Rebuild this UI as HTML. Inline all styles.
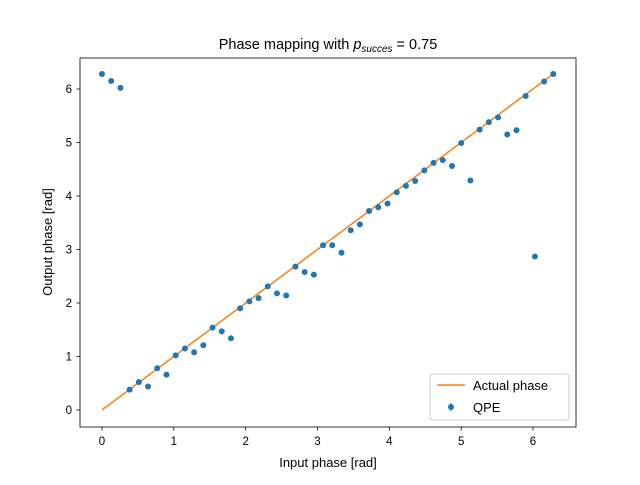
<!DOCTYPE html>
<html><head><meta charset="utf-8"><style>
body{margin:0;background:#fff}
svg{font-family:"Liberation Sans","DejaVu Sans",sans-serif}
</style></head><body>
<svg id="chart" width="640" height="480" viewBox="0 0 640 480">
<rect width="640" height="480" fill="#fff"/>
<text x="328" y="49" font-size="14.5" text-anchor="middle">Phase mapping with <tspan font-style="italic">p</tspan><tspan font-style="italic" font-size="10" dy="3">succes</tspan><tspan dy="-3"> = 0.75</tspan></text>
<g id="ticks"></g>
<g id="marks"></g>
<rect x="80" y="58" width="496" height="369" fill="none" stroke="#000" stroke-width="0.8"/>
<text x="328" y="467" font-size="13" text-anchor="middle">Input phase [rad]</text>
<text x="0" y="0" font-size="13" text-anchor="middle" transform="translate(52,242) rotate(-90)">Output phase [rad]</text>
<g>
<rect x="430" y="374" width="139" height="46" rx="3" fill="#fff" fill-opacity="0.8" stroke="#ccc"/>
<line x1="437" y1="385" x2="465" y2="385" stroke="#ff7f0e" stroke-width="1.5"/>
<text x="473" y="390" font-size="13">Actual phase</text>
<circle cx="451" cy="407" r="3" fill="#1f77b4"/>
<line x1="451" y1="403" x2="451" y2="411" stroke="#1f77b4"/>
<text x="473" y="412" font-size="13">QPE</text>
</g>
</svg>
<script>
const qpeValues=[6.28,6.15,6.02,0.38,0.52,0.44,0.78,0.66,1.02,1.15,1.08,1.21,1.54,1.47,1.34,1.90,2.03,2.09,2.31,2.18,2.14,2.68,2.58,2.53,3.08,3.08,2.94,3.36,3.47,3.72,3.79,3.86,4.07,4.19,4.28,4.48,4.62,4.67,4.56,4.99,4.29,5.24,5.38,5.47,5.15,5.23,5.87,2.87,6.14,6.28];
const xTicks=[0,1,2,3,4,5,6];
const yTicks=[0,1,2,3,4,5,6];
const N=qpeValues.length;
const inputPhases=qpeValues.map((v,i)=>i*2*Math.PI/(N-1));
const sx=v=>102+v*71.83;
const sy=v=>410-v*53.5;
const NS="http://www.w3.org/2000/svg";
const ticks=document.getElementById('ticks'),marks=document.getElementById('marks');
function mk(tag,attrs,parent){const e=document.createElementNS(NS,tag);for(const k in attrs)e.setAttribute(k,attrs[k]);parent.appendChild(e);return e;}
xTicks.forEach(t=>{
 const l=mk('line',{x1:sx(t),x2:sx(t),y1:427,y2:430.5,stroke:'#000','stroke-width':0.8},ticks);
 
 
 const tx=mk('text',{x:sx(t),y:445,'font-size':11.5,'text-anchor':'middle'},ticks);tx.textContent=t;
 
 
});
yTicks.forEach(t=>{
 const l=mk('line',{x1:76.5,x2:80,y1:sy(t),y2:sy(t),stroke:'#000','stroke-width':0.8},ticks);
 
 
 const tx=mk('text',{x:72,y:sy(t)+4,'font-size':11.5,'text-anchor':'end'},ticks);tx.textContent=t;
 
 
});
const line=mk('line',{x1:sx(0),y1:sy(0),x2:sx(2*Math.PI),y2:sy(2*Math.PI),stroke:'#ff7f0e','stroke-width':1.5},marks);


qpeValues.forEach((v,i)=>{
 const c=mk('circle',{cx:sx(inputPhases[i]),cy:sy(v),r:3,fill:'#1f77b4'},marks);
 
 
});
</script>
</body></html>
